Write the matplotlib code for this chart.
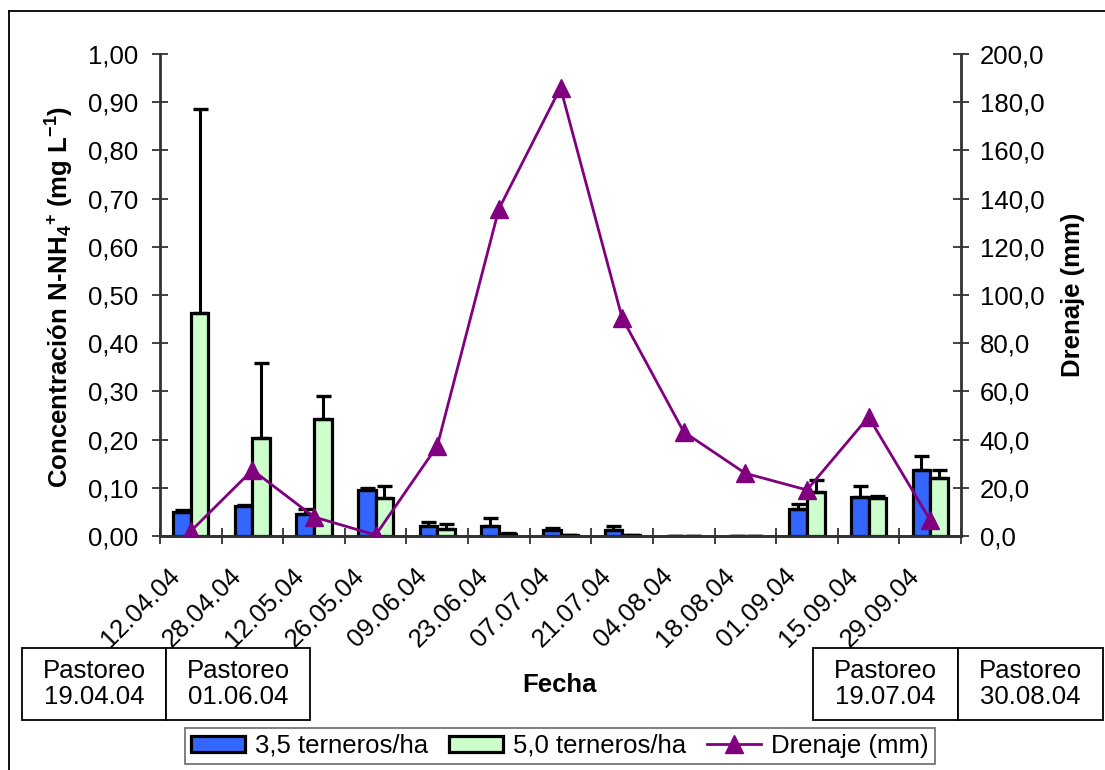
import matplotlib
matplotlib.use("Agg")
import matplotlib.pyplot as plt
import numpy as np
from matplotlib.patches import Rectangle, Patch
from matplotlib.lines import Line2D
from matplotlib.ticker import FuncFormatter, FixedLocator
from matplotlib.transforms import ScaledTranslation

plt.rcParams['font.family'] = ['Liberation Sans', 'DejaVu Sans']
plt.rcParams['mathtext.fontset'] = 'custom'
plt.rcParams['mathtext.rm'] = 'Liberation Sans'
plt.rcParams['mathtext.bf'] = 'Liberation Sans:bold'
plt.rcParams['mathtext.it'] = 'Liberation Sans:italic'

fechas = ["12.04.04", "28.04.04", "12.05.04", "26.05.04", "09.06.04", "23.06.04",
          "07.07.04", "21.07.04", "04.08.04", "18.08.04", "01.09.04", "15.09.04", "29.09.04"]
conc_35 = [0.050, 0.062, 0.046, 0.096, 0.021, 0.021, 0.012, 0.012, 0.0, 0.0, 0.055, 0.080, 0.137]
err_35 = [0.003, 0.002, 0.009, 0.003, 0.008, 0.016, 0.004, 0.008, 0.0, 0.0, 0.011, 0.024, 0.029]
conc_50 = [0.462, 0.204, 0.242, 0.078, 0.015, 0.005, 0.003, 0.002, 0.0, 0.0, 0.091, 0.078, 0.120]
err_50 = [0.423, 0.155, 0.048, 0.026, 0.010, 0.002, 0.0, 0.0, 0.0, 0.0, 0.025, 0.004, 0.017]
drenaje = [2.0, 27.4, 7.9, 0.4, 37.4, 135.7, 186.0, 90.5, 43.2, 26.0, 19.1, 49.4, 6.6]
pastoreos_izq = ["Pastoreo\n19.04.04", "Pastoreo\n01.06.04"]
pastoreos_der = ["Pastoreo\n19.07.04", "Pastoreo\n30.08.04"]

FS = 18.5
W, H = 1105, 770
fig = plt.figure(figsize=(W / 100, H / 100), dpi=100)
ax = fig.add_axes([160 / W, 1 - 536 / H, 801 / W, 482 / H])
ax2 = ax.twinx()

BLUE = '#3366FF'
GREEN = '#CCFFCC'
PURPLE = '#800080'

x = np.arange(len(fechas))
bw = 0.285
ekw = dict(elinewidth=2.2, capthick=2.4, ecolor='black')
ax.bar(x - bw / 2, conc_35, bw, color=BLUE, edgecolor='black', linewidth=2.3,
       yerr=[np.zeros(len(err_35)), err_35], capsize=5.4, error_kw=ekw, zorder=3)
ax.bar(x + bw / 2, conc_50, bw, color=GREEN, edgecolor='black', linewidth=2.3,
       yerr=[np.zeros(len(err_50)), err_50], capsize=5.4, error_kw=ekw, zorder=3)

ax2.plot(x, drenaje, color=PURPLE, lw=2.0, marker='^', markersize=13, zorder=4)

ax.set_xlim(-0.5, len(fechas) - 0.5)
ax.set_ylim(0, 1.0)
ax2.set_ylim(0, 200)
ax.set_yticks(np.arange(0, 1.001, 0.1))
ax2.set_yticks(np.arange(0, 200.1, 20))
ax.yaxis.set_major_formatter(FuncFormatter(lambda v, p: f"{v:.2f}".replace('.', ',')))
ax2.yaxis.set_major_formatter(FuncFormatter(lambda v, p: f"{v:.1f}".replace('.', ',')))

ax.set_xticks(x)
ax.set_xticklabels(fechas, rotation=45, ha='right', va='top')
ax.xaxis.set_minor_locator(FixedLocator(np.arange(-0.5, len(fechas), 1.0)))
ax.tick_params(axis='x', which='major', length=0, pad=20, labelsize=FS)
ax.tick_params(axis='x', which='minor', direction='inout', length=11, width=1.3, color='#333333')
ax.tick_params(axis='y', direction='inout', length=11, width=1.3, color='#333333', pad=10, labelsize=FS)
ax2.tick_params(axis='y', direction='inout', length=11, width=1.3, color='#333333', pad=8, labelsize=FS)
off = ScaledTranslation(-6 / 100, 0, fig.dpi_scale_trans)
for lab in ax.get_xticklabels():
    lab.set_transform(lab.get_transform() + off)

for a in (ax, ax2):
    a.spines['top'].set_visible(False)
    for s in ('left', 'right', 'bottom'):
        a.spines[s].set_color('#333333')
        a.spines[s].set_linewidth(2.0)
ax2.spines['left'].set_visible(False)
ax.spines['right'].set_visible(False)
ax.set_zorder(ax2.get_zorder() - 1)
ax2.patch.set_visible(False)

fig.text(60 / W, 1 - 297 / H, "Concentración N-NH$_\\mathbf{4}$$^\\mathbf{+}$ (mg L$^\\mathbf{-1}$)",
         rotation=90, ha='center', va='center', fontsize=FS, fontweight='bold')
fig.text(1073 / W, 1 - 295 / H, "Drenaje (mm)", rotation=90, ha='center', va='center',
         fontsize=FS, fontweight='bold')
fig.text(560 / W, 1 - 685 / H, "Fecha", ha='center', va='center', fontsize=FS, fontweight='bold')

# Pastoreo boxes
def box(x0, x1, y0, y1, txt):
    r = Rectangle((x0 / W, 1 - y1 / H), (x1 - x0) / W, (y1 - y0) / H, transform=fig.transFigure,
                  facecolor='white', edgecolor='black', linewidth=1.3, zorder=10)
    fig.add_artist(r)
    fig.text((x0 + x1) / 2 / W, 1 - (y0 + y1) / 2 / H, txt, ha='center', va='center',
             fontsize=FS, linespacing=1.15, zorder=11)

box(22, 166, 648, 720, pastoreos_izq[0])
box(166, 310, 648, 720, pastoreos_izq[1])
box(813, 958, 648, 720, pastoreos_der[0])
box(958, 1103, 648, 720, pastoreos_der[1])

# figure border (top + left)
fig.add_artist(Line2D([9 / W, 1.0], [1 - 11 / H, 1 - 11 / H], transform=fig.transFigure, color='black', lw=1.3))
fig.add_artist(Line2D([9 / W, 9 / W], [1 - 11 / H, 0], transform=fig.transFigure, color='black', lw=1.3))

handles = [Patch(facecolor=BLUE, edgecolor='black', linewidth=2.3),
           Patch(facecolor=GREEN, edgecolor='black', linewidth=2.3),
           Line2D([], [], color=PURPLE, lw=2.0, marker='^', markersize=13)]
labels = ["3,5 terneros/ha", "5,0 terneros/ha", "Drenaje (mm)"]
leg = fig.legend(handles, labels, loc='center', bbox_to_anchor=(560 / W, 1 - 746 / H), ncol=3,
                 fontsize=FS, frameon=True, fancybox=False, edgecolor='#444444',
                 handlelength=2.1, handleheight=0.6, handletextpad=0.4, columnspacing=0.8,
                 borderpad=0.25, borderaxespad=0)
leg.get_frame().set_linewidth(1.2)

fig.savefig("out.png", dpi=100)
